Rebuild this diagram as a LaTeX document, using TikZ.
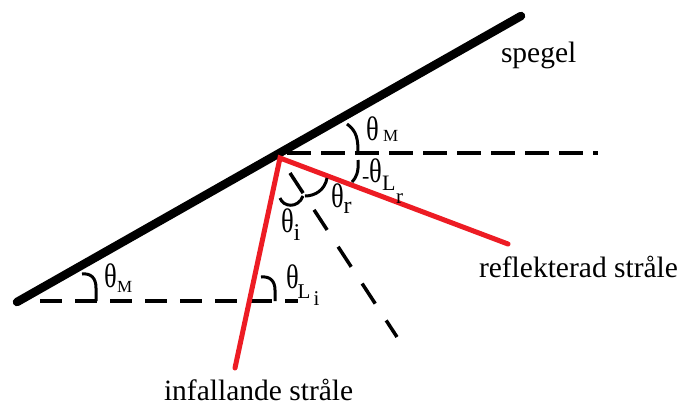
\documentclass[tikz,border=0pt]{standalone}
\usepackage{graphicx}
\usepackage{fontspec}
\setmainfont{Liberation Serif}
\definecolor{rayred}{RGB}{237,28,36}
\newcommand{\fbig}{\fontsize{29.5}{29.5}\selectfont}
\newcommand{\thg}{\scalebox{0.78}[1]{\fontsize{34}{34}\selectfont θ}}
\newcommand{\fhy}{\fontsize{22}{22}\selectfont}
\newcommand{\fsubA}{\fontsize{24}{24}\selectfont}
\newcommand{\fsubL}{\fontsize{22}{22}\selectfont}
\newcommand{\fsubB}{\fontsize{21}{21}\selectfont}
\newcommand{\fsubM}{\fontsize{17}{17}\selectfont}
\begin{document}
\begin{tikzpicture}[x=1pt,y=-1pt,
  mirror/.style={line width=8.5pt,line cap=round},
  redray/.style={draw=rayred,line width=5pt,line cap=round},
  dashline/.style={line width=3.5pt,dash pattern=on 24pt off 10pt},
  anglemark/.style={line width=3pt},
  lbl/.style={anchor=base west,inner sep=0pt,outer sep=0pt}]
\useasboundingbox (0,0) rectangle (681,405);
% coordinates
\coordinate (m1) at (17,302);
\coordinate (m2) at (521,16);
\coordinate (P) at (280,158);
\coordinate (src) at (235,368);
\coordinate (refl) at (508,244);
\coordinate (h1a) at (287,153);
\coordinate (h1b) at (598,153);
\coordinate (h2a) at (40,301);
\coordinate (h2b) at (298,301);
\coordinate (n1) at (290,173);
\coordinate (n2) at (397,337);
% mirror
\draw[mirror] (m1) -- (m2);
% dashed lines
\draw[dashline] (h1a) -- (h1b);
\draw[line width=3.5pt,dash pattern=on 22pt off 13pt] (h2a) -- (h2b);
\draw[line width=3.5pt,dash pattern=on 24pt off 20pt] (n1) -- (n2);
% rays
\draw[redray] (src) -- (P) -- (refl);
% angle marks
\draw[anglemark] (347,124) .. controls (357,131) and (358,140) .. (358,152);
\draw[anglemark] (358,160) .. controls (359,172) and (356,178) .. (352,182);
\draw[anglemark] (327,178) .. controls (325,190) and (315,196) .. (305,196);
\draw[anglemark] (280,198) .. controls (283,207) and (298,209) .. (303,196);
\draw[anglemark] (82,274) .. controls (91,273) and (96,278) .. (96,288) -- (96,301);
\draw[anglemark] (261,277) .. controls (270,276) and (275,281) .. (275,290) -- (275,301);
% texts
\node[lbl] (spegel) at (501,62) {\fbig spegel};
\node[lbl] (reflt) at (479,277) {\fbig reflekterad stråle};
\node[lbl] (infal) at (164,400) {\fbig infallande stråle};
% angle labels
\node[lbl] (thMu) at (366,140) {\rlap{\thg}\kern17pt\raisebox{-1pt}{\fsubM M}};
\node[lbl] (thLr) at (362,182) {\rlap{\raisebox{-1pt}{\fhy -}}\kern7pt\rlap{\thg}\kern13pt\rlap{\raisebox{-8pt}{\fsubL L}}\kern14pt\raisebox{-21pt}{\fsubB r}};
\node[lbl] (thr) at (331,207) {\rlap{\thg}\kern12.5pt\raisebox{-6pt}{\fsubA r}};
\node[lbl] (thi) at (281,232) {\rlap{\thg}\kern12.5pt\raisebox{-8pt}{\fsubA i}};
\node[lbl] (thMl) at (104,287) {\rlap{\thg}\kern13pt\raisebox{-5pt}{\fsubM M}};
\node[lbl] (thLi) at (286,288) {\rlap{\thg}\kern11.5pt\rlap{\raisebox{-10pt}{\fsubB L}}\kern16pt\raisebox{-17pt}{\fsubB i}};
\end{tikzpicture}
\end{document}
